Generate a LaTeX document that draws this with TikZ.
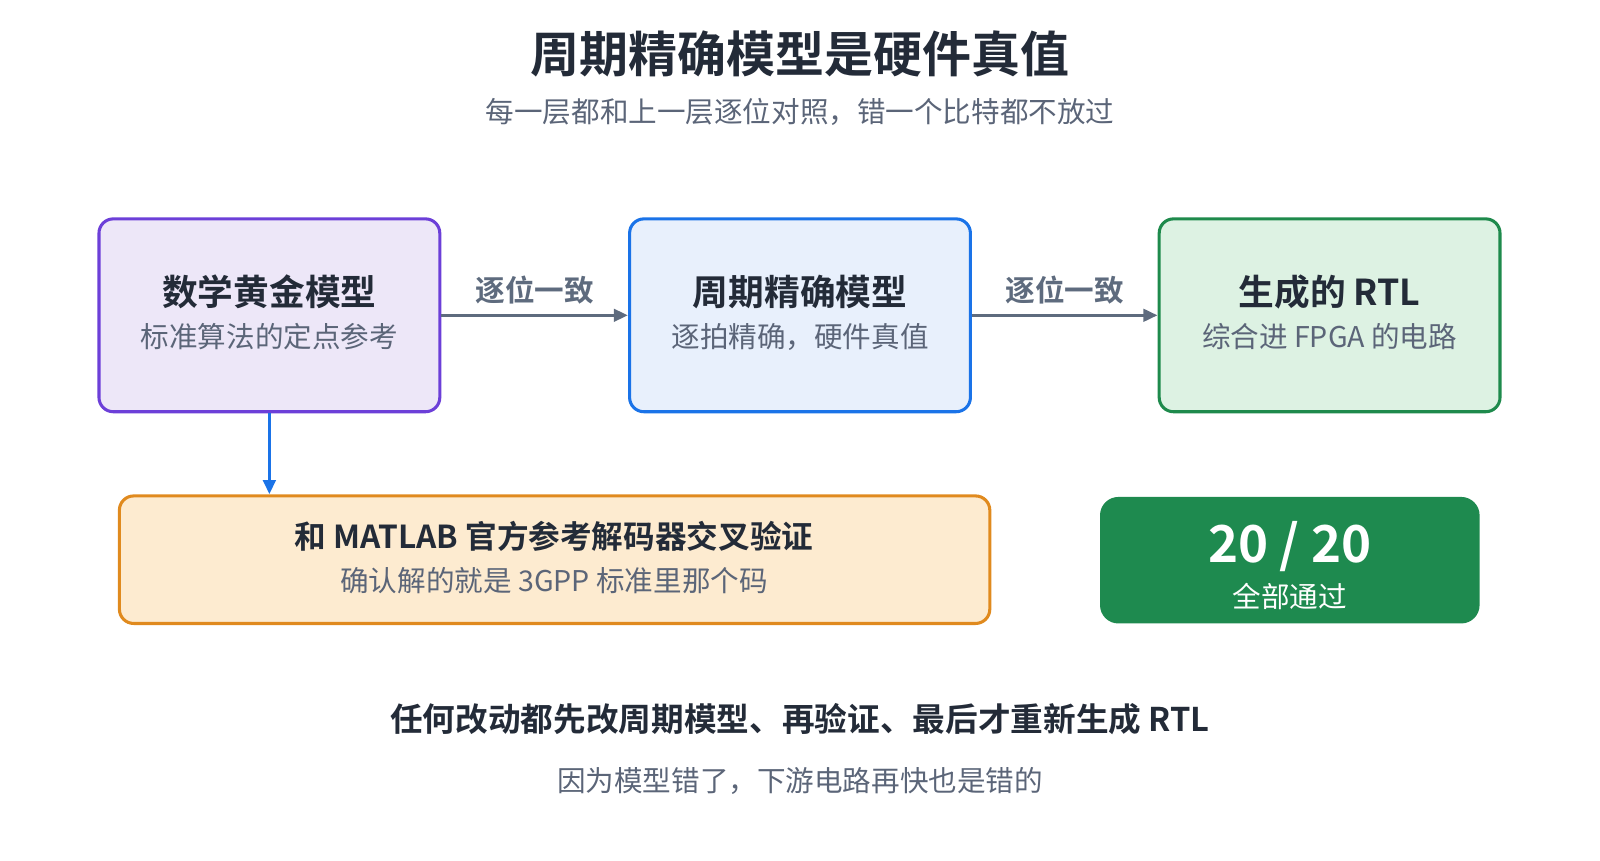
\documentclass[tikz,border=0pt]{standalone}
\usepackage{fontspec}
\setmainfont{Noto Sans CJK SC}[BoldFont={Noto Sans CJK SC Bold}]
\usetikzlibrary{arrows.meta}
\definecolor{ink}{HTML}{232B38}
\definecolor{sub}{HTML}{5B6578}
\definecolor{arr}{HTML}{5E6B7E}
\definecolor{pb}{HTML}{6C3FD8}\definecolor{pf}{HTML}{EDE7F8}
\definecolor{bb}{HTML}{1A73E8}\definecolor{bf}{HTML}{E8F0FC}
\definecolor{gb}{HTML}{1E8A4C}\definecolor{gf}{HTML}{DDF2E3}
\definecolor{ob}{HTML}{E08A1E}\definecolor{of}{HTML}{FDEBD0}
\definecolor{dg}{HTML}{1E8A4F}
\begin{document}
\begin{tikzpicture}[x=1pt,y=-1pt,
 box/.style={draw,line width=3pt,rounded corners=14pt,minimum width=334pt,minimum height=189pt},
 tt/.style={font=\fontsize{35}{40}\selectfont\bfseries,text=ink},
 st/.style={font=\fontsize{28}{32}\selectfont,text=sub},
 lab/.style={font=\fontsize{29}{32}\selectfont\bfseries,text=arr},
 ar/.style={line width=3.5pt,-{Triangle[length=14pt,width=12pt]}}]
\useasboundingbox (0,0) rectangle (1568,843);
\node[font=\fontsize{48}{54}\selectfont\bfseries,text=ink] (t) at (784,53) {周期精确模型是硬件真值};
\node[st] (ts) at (784,110) {每一层都和上一层逐位对照，错一个比特都不放过};
\node[box,draw=pb,fill=pf] (n1) at (264,309) {};
\node[tt] (n1t) at (264,286) {数学黄金模型};
\node[st] (n1s) at (264,330) {标准算法的定点参考};
\node[box,draw=bb,fill=bf] (n2) at (784,309) {};
\node[tt] (n2t) at (784,286) {周期精确模型};
\node[st] (n2s) at (784,330) {逐拍精确，硬件真值};
\node[box,draw=gb,fill=gf] (n3) at (1303,309) {};
\node[tt] (n3t) at (1303,286) {生成的 RTL};
\node[st] (n3s) at (1303,330) {综合进 FPGA 的电路};
\node[box,draw=ob,fill=of,minimum width=853pt,minimum height=125pt] (n4) at (543.5,548.5) {};
\node[font=\fontsize{31}{36}\selectfont\bfseries,text=ink] (n4t) at (543,526) {和 MATLAB 官方参考解码器交叉验证};
\node[st] (n4s) at (543,569) {确认解的就是 3GPP 标准里那个码};
\node[fill=dg,rounded corners=18pt,minimum width=372pt,minimum height=124pt] (n5) at (1264,549) {};
\node[font=\fontsize{50}{56}\selectfont\bfseries,text=white] (p) at (1264,536) {20 / 20};
\node[font=\fontsize{28}{32}\selectfont,text=white] (pq) at (1264,585) {全部通过};
\draw[ar,draw=arr,fill=arr] (n1.east) -- (n2.west) node[midway,above=6pt,lab] {逐位一致};
\draw[ar,draw=arr,fill=arr] (n2.east) -- (n3.west) node[midway,above=6pt,lab] {逐位一致};
\draw[ar,draw=bb,fill=bb] (n1.south) -- (n4.north -| n1.south);
\node[font=\fontsize{32}{36}\selectfont\bfseries,text=ink] (f1) at (784,705) {任何改动都先改周期模型、再验证、最后才重新生成 RTL};
\node[st] (f2) at (784,765) {因为模型错了，下游电路再快也是错的};
\end{tikzpicture}
\end{document}
